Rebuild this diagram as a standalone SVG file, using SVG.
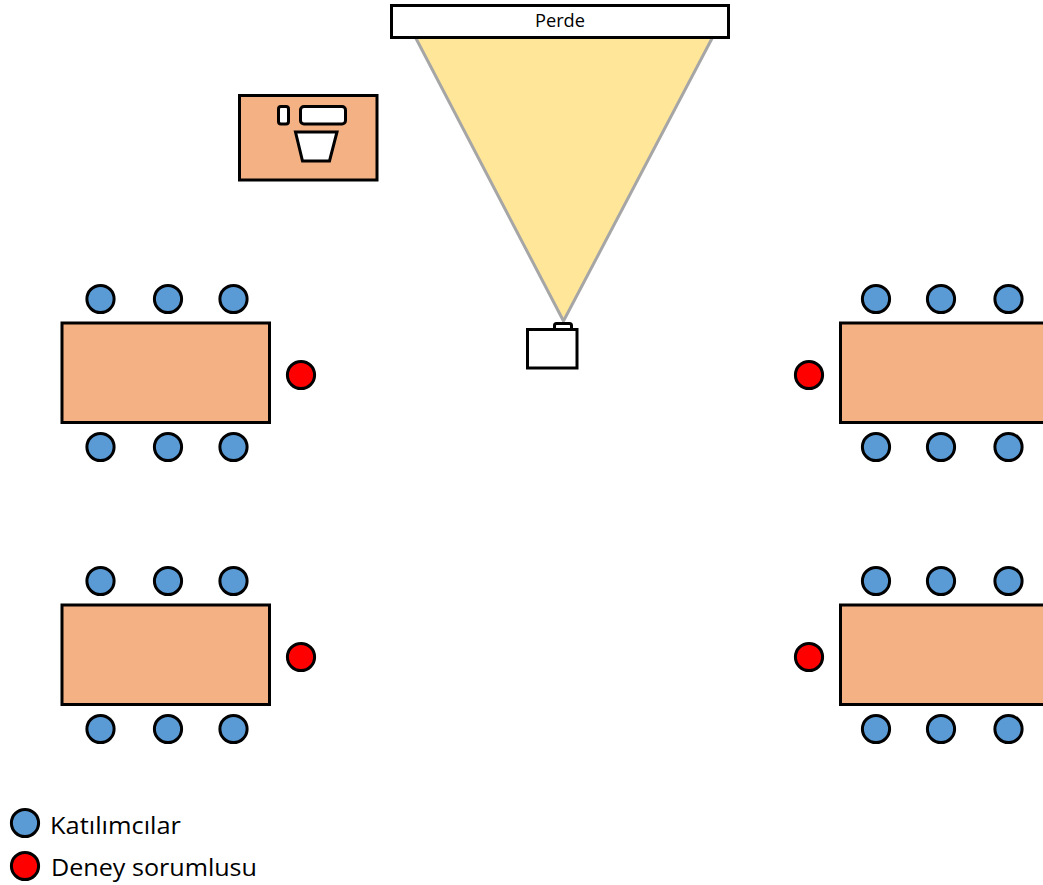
<svg xmlns="http://www.w3.org/2000/svg" xmlns:xlink="http://www.w3.org/1999/xlink" width="1043" height="885" viewBox="0 0 1043 885">
<style>
.s{stroke:#000;stroke-width:3}
.t{fill:#F4B183}
.w{fill:#fff}
.p{fill:#5B9BD5}
.r{fill:#FF0000}
text{font-family:"Open Sans","Noto Sans","Liberation Sans",sans-serif;fill:#000}
</style>
<defs>
<g id="seat"><circle r="13.600" class="s p"/></g>
<g id="lead"><circle r="13.600" class="s r"/></g>
</defs>
<rect width="1043" height="885" fill="#fff"/>
<g id="beam"><polygon points="415.500,37.500 712.500,37.500 563.500,321" fill="#FFE699" stroke="#A6A6A6" stroke-width="3"/></g>
<g id="perde"><rect x="391.500" y="5.500" width="337" height="32" class="s w"/><text x="560" y="27" font-size="17.500" text-anchor="middle" textLength="50" lengthAdjust="spacingAndGlyphs">Perde</text></g>
<g id="control-desk">
<rect x="239.500" y="95.500" width="137.500" height="84.500" class="s t"/>
<rect x="278.500" y="106.500" width="10" height="17.500" rx="2.500" class="s w"/>
<rect x="300.500" y="106.500" width="45" height="17.500" rx="3.500" class="s w"/>
<polygon points="295.500,132 337,132 329.500,161 302.500,161" class="s w"/>
</g>
<g id="projector">
<rect x="554.500" y="323.500" width="17" height="7" rx="2" class="s w"/>
<rect x="527.500" y="329.500" width="49.500" height="38.500" class="s w"/>
</g>
<g id="table-top-left">
<rect x="62" y="323" width="207.500" height="99.500" class="s t"/>
<use xlink:href="#seat" x="100.500" y="299"/><use xlink:href="#seat" x="168" y="299"/><use xlink:href="#seat" x="233.500" y="299"/>
<use xlink:href="#seat" x="100.500" y="447"/><use xlink:href="#seat" x="168" y="447"/><use xlink:href="#seat" x="233.500" y="447"/>
<use xlink:href="#lead" x="301" y="375"/>
</g>
<g id="table-bottom-left">
<rect x="62" y="605" width="207.500" height="99.500" class="s t"/>
<use xlink:href="#seat" x="100.500" y="581"/><use xlink:href="#seat" x="168" y="581"/><use xlink:href="#seat" x="233.500" y="581"/>
<use xlink:href="#seat" x="100.500" y="729"/><use xlink:href="#seat" x="168" y="729"/><use xlink:href="#seat" x="233.500" y="729"/>
<use xlink:href="#lead" x="301" y="657"/>
</g>
<g id="table-top-right">
<rect x="840.500" y="323" width="207.500" height="99.500" class="s t"/>
<use xlink:href="#seat" x="876" y="299"/><use xlink:href="#seat" x="941" y="299"/><use xlink:href="#seat" x="1008.500" y="299"/>
<use xlink:href="#seat" x="876" y="447"/><use xlink:href="#seat" x="941" y="447"/><use xlink:href="#seat" x="1008.500" y="447"/>
<use xlink:href="#lead" x="809" y="375"/>
</g>
<g id="table-bottom-right">
<rect x="840.500" y="605" width="207.500" height="99.500" class="s t"/>
<use xlink:href="#seat" x="876" y="581"/><use xlink:href="#seat" x="941" y="581"/><use xlink:href="#seat" x="1008.500" y="581"/>
<use xlink:href="#seat" x="876" y="729"/><use xlink:href="#seat" x="941" y="729"/><use xlink:href="#seat" x="1008.500" y="729"/>
<use xlink:href="#lead" x="809" y="657"/>
</g>
<g id="legend-participants"><use xlink:href="#seat" x="25" y="823"/><text x="50" y="833.500" font-size="24.500" textLength="131" lengthAdjust="spacingAndGlyphs">Katılımcılar</text></g>
<g id="legend-supervisor"><use xlink:href="#lead" x="25" y="866"/><text x="51" y="875.500" font-size="24.500" textLength="206" lengthAdjust="spacingAndGlyphs">Deney sorumlusu</text></g>
</svg>
